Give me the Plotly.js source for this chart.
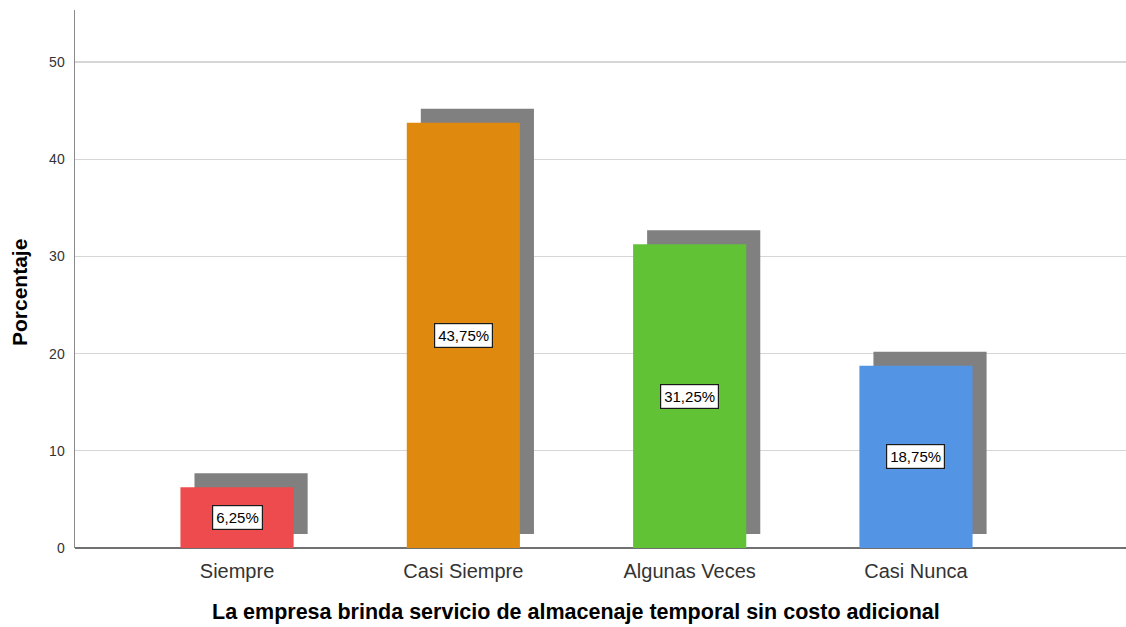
<!DOCTYPE html>
<html>
<head>
<meta charset="utf-8">
<script src="https://cdn.plot.ly/plotly-3.0.1.min.js"></script>
<style>
  html, body { margin: 0; padding: 0; background: #fff; }
  #chart { width: 1126px; height: 627px; }
</style>
</head>
<body>
<div id="chart"></div>
<script>
// Data
const categories = ["Siempre", "Casi Siempre", "Algunas Veces", "Casi Nunca"];
const percentages = [6.25, 43.75, 31.25, 18.75];
const labels = ["6,25%", "43,75%", "31,25%", "18,75%"];
const barColors = ["#EE4B4E", "#E0890F", "#62C236", "#5494E5"];
const yTickVals = [0, 10, 20, 30, 40, 50];
const xTitle = "La empresa brinda servicio de almacenaje temporal sin costo adicional";
const yTitle = "Porcentaje";

const FONT = "Liberation Sans, Arial, sans-serif";

// shadow (3D look): shifted right and up
const shadow = {
  type: "bar",
  x: categories,
  y: percentages,
  base: 1.44,
  width: 0.5,
  offset: -0.188,
  marker: { color: "#808080", line: { width: 0 } },
  hoverinfo: "skip",
  showlegend: false
};

const bars = {
  type: "bar",
  x: categories,
  y: percentages,
  width: 0.5,
  offset: -0.25,
  marker: { color: barColors, line: { width: 0 } },
  hoverinfo: "skip",
  showlegend: false
};

const annotations = categories.map((c, i) => ({
  x: c,
  y: percentages[i] / 2,
  xref: "x",
  yref: "y",
  text: labels[i],
  showarrow: false,
  font: { family: FONT, size: 15, color: "#000" },
  bgcolor: "#ffffff",
  bordercolor: "#1a1a1a",
  borderwidth: 1.2,
  borderpad: 3
}));

annotations.push({
  text: "<b>" + xTitle + "</b>",
  xref: "paper", yref: "paper",
  x: 0.4767, y: -0.119,
  xanchor: "center", yanchor: "middle",
  showarrow: false,
  font: { family: FONT, size: 21.5, color: "#000" }
});
annotations.push({
  text: "<b>" + yTitle + "</b>",
  xref: "paper", yref: "paper",
  x: -0.0523, y: 0.474,
  xanchor: "center", yanchor: "middle",
  textangle: -90,
  showarrow: false,
  font: { family: FONT, size: 21, color: "#000" }
});

const layout = {
  width: 1126,
  height: 627,
  margin: { l: 75, r: 0, t: 10, b: 79 },
  paper_bgcolor: "#ffffff",
  plot_bgcolor: "#ffffff",
  barmode: "overlay",
  font: { family: FONT, color: "#333" },
  xaxis: {
    type: "category",
    range: [-0.716, 3.928],
    showgrid: false,
    showline: false,
    zeroline: false,
    ticks: "",
    tickfont: { family: FONT, size: 20, color: "#333" },
    ticklabelstandoff: 9
  },
  yaxis: {
    range: [0, 55.35],
    tickvals: yTickVals,
    showgrid: true,
    gridcolor: "#d6d6d6",
    gridwidth: 1.3,
    showline: true,
    linecolor: "#8a8a8a",
    linewidth: 1.5,
    zeroline: true,
    zerolinecolor: "#707070",
    zerolinewidth: 2,
    ticks: "",
    tickfont: { family: FONT, size: 14, color: "#333" },
    ticklabelstandoff: 6
  },
  annotations: annotations
};

Plotly.newPlot("chart", [shadow, bars], layout, { displayModeBar: false, staticPlot: true });
</script>
</body>
</html>
